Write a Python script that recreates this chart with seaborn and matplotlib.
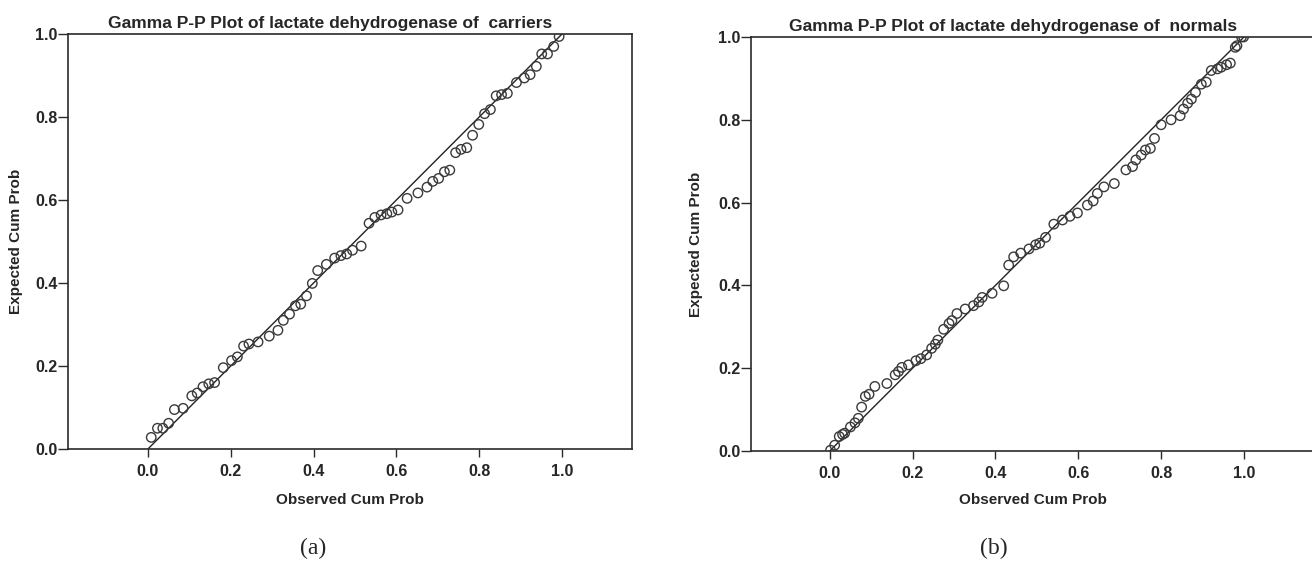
import numpy as np
import pandas as pd
import matplotlib
matplotlib.use("Agg")
import matplotlib.pyplot as plt
import seaborn as sns

# ---- data: carriers ----
carriers_obs = [0.008, 0.023, 0.036, 0.050, 0.064, 0.085, 0.106, 0.119, 0.133, 0.147,
                0.161, 0.182, 0.202, 0.216, 0.231, 0.244, 0.266, 0.293, 0.314, 0.327,
                0.342, 0.356, 0.369, 0.383, 0.397, 0.410, 0.431, 0.451, 0.466, 0.480,
                0.494, 0.515, 0.534, 0.548, 0.563, 0.577, 0.589, 0.604, 0.626, 0.652,
                0.674, 0.688, 0.702, 0.716, 0.729, 0.743, 0.756, 0.770, 0.784, 0.799,
                0.813, 0.827, 0.841, 0.854, 0.868, 0.890, 0.909, 0.923, 0.938, 0.951,
                0.965, 0.980, 0.993]
carriers_exp = [0.028, 0.050, 0.050, 0.062, 0.095, 0.098, 0.128, 0.135, 0.150, 0.157,
                0.160, 0.196, 0.213, 0.222, 0.248, 0.253, 0.258, 0.272, 0.286, 0.310,
                0.325, 0.345, 0.349, 0.369, 0.399, 0.430, 0.445, 0.460, 0.466, 0.470,
                0.479, 0.489, 0.544, 0.558, 0.564, 0.567, 0.571, 0.576, 0.604, 0.617,
                0.631, 0.645, 0.652, 0.668, 0.672, 0.714, 0.722, 0.726, 0.756, 0.782,
                0.808, 0.818, 0.851, 0.854, 0.857, 0.883, 0.894, 0.902, 0.922, 0.952,
                0.952, 0.970, 0.994]

# ---- data: normals ----
normals_obs = [0.002, 0.012, 0.023, 0.031, 0.036, 0.050, 0.061, 0.069, 0.077, 0.086,
               0.095, 0.109, 0.138, 0.158, 0.166, 0.174, 0.190, 0.208, 0.220, 0.234,
               0.246, 0.255, 0.261, 0.275, 0.288, 0.295, 0.307, 0.327, 0.347, 0.360,
               0.368, 0.392, 0.420, 0.432, 0.444, 0.461, 0.481, 0.497, 0.507, 0.521,
               0.541, 0.562, 0.580, 0.598, 0.622, 0.636, 0.646, 0.662, 0.687, 0.715,
               0.731, 0.739, 0.752, 0.762, 0.774, 0.784, 0.800, 0.824, 0.846, 0.854,
               0.864, 0.873, 0.883, 0.897, 0.909, 0.921, 0.936, 0.945, 0.958, 0.967,
               0.979, 0.983, 0.994, 0.999]
normals_exp = [0.002, 0.014, 0.035, 0.040, 0.043, 0.058, 0.068, 0.079, 0.106, 0.132,
               0.137, 0.156, 0.163, 0.184, 0.192, 0.202, 0.208, 0.218, 0.223, 0.232,
               0.248, 0.258, 0.268, 0.294, 0.308, 0.315, 0.332, 0.343, 0.351, 0.360,
               0.371, 0.381, 0.399, 0.449, 0.469, 0.478, 0.488, 0.498, 0.502, 0.516,
               0.548, 0.558, 0.567, 0.575, 0.594, 0.604, 0.622, 0.638, 0.646, 0.679,
               0.687, 0.703, 0.715, 0.727, 0.731, 0.755, 0.788, 0.800, 0.810, 0.826,
               0.840, 0.850, 0.866, 0.886, 0.891, 0.919, 0.923, 0.927, 0.933, 0.937,
               0.975, 0.979, 1.000, 1.000]

ref_line = [0.0, 1.0]
tick_values = [0.0, 0.2, 0.4, 0.6, 0.8, 1.0]
tick_labels = ["0.0", "0.2", "0.4", "0.6", "0.8", "1.0"]

titles = ["Gamma P-P Plot of lactate dehydrogenase of  carriers",
          "Gamma P-P Plot of lactate dehydrogenase of  normals"]
panel_labels = ["(a)", "(b)"]

sns.set_theme(style="white")
plt.rcParams["font.family"] = ["Liberation Sans", "DejaVu Sans"]

fig = plt.figure(figsize=(13.12, 5.63), dpi=100)
ax1 = fig.add_axes([68/1312, 1-449/563, (632-68)/1312, (449-34)/563])
ax2 = fig.add_axes([751/1312, 1-451/563, (1314-751)/1312, (451-37)/563])

datasets = [(carriers_obs, carriers_exp), (normals_obs, normals_exp)]
xlims = [(-0.193, 1.169), (-0.19, 1.169)]
ylab_x = [-0.080, -0.0856]
xlab_y = [-0.106, -0.101]
spine_col = "#2a2a2a"

for ax, (obs, exp), title, xl, lx, ly in zip([ax1, ax2], datasets, titles, xlims, ylab_x, xlab_y):
    df = pd.DataFrame({"obs": obs, "exp": exp})
    ref = pd.DataFrame({"x": ref_line, "y": ref_line})
    sns.lineplot(data=ref, x="x", y="y", ax=ax, color="#222222", linewidth=1.0)
    sns.scatterplot(data=df, x="obs", y="exp", ax=ax, marker="o", s=46,
                    facecolor="none", edgecolor="#3a3a3a", linewidth=1.0, zorder=3)
    ax.set_xlim(*xl)
    ax.set_ylim(0, 1)
    ax.set_xticks(tick_values)
    ax.set_xticklabels(tick_labels, fontsize=11.5, fontweight="bold")
    ax.set_yticks(tick_values)
    ax.set_yticklabels(tick_labels, fontsize=11.5, fontweight="bold")
    ax.tick_params(axis="x", direction="out", length=6, width=1.0, pad=4.5, color=spine_col, bottom=True)
    ax.tick_params(axis="y", direction="out", length=7, width=1.0, pad=0.5, color=spine_col, left=True)
    for sp in ax.spines.values():
        sp.set_color(spine_col)
        sp.set_linewidth(1.2)
        sp.set_visible(True)
    ax.set_xlabel("Observed Cum Prob", fontsize=11, fontweight="bold")
    ax.set_ylabel("Expected Cum Prob", fontsize=11, fontweight="bold")
    ax.xaxis.set_label_coords(0.5, ly)
    ax.yaxis.set_label_coords(lx, 0.5)
    ax.set_title(title, fontsize=12.5, fontweight="bold", x=0.465, pad=4)
    ax.grid(False)

fig.text(313/1312, 1-548/563, panel_labels[0], fontsize=17, family="Liberation Serif",
         ha="center", va="center")
fig.text(994/1312, 1-548/563, panel_labels[1], fontsize=17, family="Liberation Serif",
         ha="center", va="center")

fig.savefig("out.png", dpi=100, facecolor="white")
